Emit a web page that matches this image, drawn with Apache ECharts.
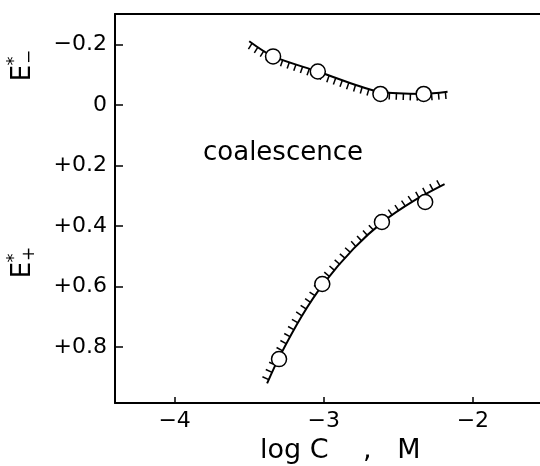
<!DOCTYPE html>
<html>
<head>
<meta charset="utf-8">
<script src="https://cdn.jsdelivr.net/npm/echarts@6/dist/echarts.min.js"></script>
<style>
  html, body { margin: 0; padding: 0; background: #fff; }
  #chart { width: 540px; height: 466px; }
</style>
</head>
<body>
<div id="chart"></div>
<script>
  // axis ticks
  const xTicks = [-4, -3, -2];
  const xTickLabels = ['−4', '−3', '−2'];
  const yTicks = [-0.2, 0, 0.2, 0.4, 0.6, 0.8];
  const yTickLabels = ['−0.2', '0', '+0.2', '+0.4', '+0.6', '+0.8'];

  // E*- branch (upper)
  const upperX = [-3.34, -3.04, -2.62, -2.33];
  const upperY = [-0.16, -0.11, -0.036, -0.036];
  const upperCurveX = [-3.50, -3.34, -3.04, -2.80, -2.62, -2.33, -2.17];
  const upperCurveY = [-0.21, -0.16, -0.11, -0.068, -0.042, -0.036, -0.043];

  // E*+ branch (lower)
  const lowerX = [-3.30, -3.01, -2.61, -2.32];
  const lowerY = [0.84, 0.592, 0.387, 0.321];
  const lowerCurveX = [-3.38, -3.30, -3.15, -3.00, -2.80, -2.60, -2.40, -2.19];
  const lowerCurveY = [0.92, 0.835, 0.70, 0.59, 0.475, 0.385, 0.318, 0.262];

  const zip = (a, b) => a.map((v, i) => [v, b[i]]);
  const upperCurve = zip(upperCurveX, upperCurveY);
  const lowerCurve = zip(lowerCurveX, lowerCurveY);

  const FONT = '"DejaVu Sans", sans-serif';

  // short hatch strokes along a curve, side = 1 below / -1 above
  function hatchSeries(curve, side, gap, len) {
    return {
      type: 'custom',
      coordinateSystem: 'cartesian2d',
      data: [[curve[0][0], curve[0][1]]],
      silent: true,
      z: 3,
      renderItem: function (params, api) {
        const pts = curve.map(p => api.coord(p));
        const children = [];
        let carry = gap / 2;
        for (let i = 0; i < pts.length - 1; i++) {
          const x0 = pts[i][0], y0 = pts[i][1];
          const dx = pts[i + 1][0] - x0, dy = pts[i + 1][1] - y0;
          const seg = Math.hypot(dx, dy);
          const ux = dx / seg, uy = dy / seg;
          const nx = -uy * side, ny = ux * side;
          let t = carry;
          while (t <= seg) {
            const px = x0 + ux * t, py = y0 + uy * t;
            children.push({
              type: 'line',
              shape: { x1: px, y1: py, x2: px + nx * len, y2: py + ny * len },
              style: { stroke: '#000', lineWidth: 1.5 }
            });
            t += gap;
          }
          carry = t - seg;
        }
        return { type: 'group', children: children };
      }
    };
  }

  function curveSeries(curve) {
    return {
      type: 'line',
      data: curve,
      smooth: 0.3,
      showSymbol: false,
      silent: true,
      z: 3,
      lineStyle: { color: '#000', width: 2 }
    };
  }

  function pointSeries(xs, ys) {
    return {
      type: 'scatter',
      data: zip(xs, ys),
      symbol: 'circle',
      symbolSize: 15,
      z: 5,
      itemStyle: { color: '#fff', borderColor: '#000', borderWidth: 1.5, opacity: 1 }
    };
  }

  // rotated E label with stacked * and sign
  function eLabel(x, y, sign) {
    return {
      type: 'group',
      x: x, y: y,
      rotation: Math.PI / 2,
      children: [
        { type: 'text', x: 0, y: 0, style: { text: 'E', font: '26px ' + FONT, fill: '#000', align: 'center', verticalAlign: 'middle' } },
        { type: 'text', x: 12, y: -9, style: { text: '*', font: '18px ' + FONT, fill: '#000', align: 'center', verticalAlign: 'middle' } },
        { type: 'text', x: 16, y: 7, style: { text: sign, font: '17px ' + FONT, fill: '#000', align: 'center', verticalAlign: 'middle' } }
      ]
    };
  }

  const chart = echarts.init(document.getElementById('chart'));
  const option = {
    backgroundColor: '#fff',
    animation: false,
    grid: { left: 115, right: 0, top: 14, bottom: 63, containLabel: false, outerBoundsMode: 'none' },
    xAxis: [
      {
        type: 'value',
        min: -4.4,
        max: -1.55,
        axisLine: { show: true, onZero: false, lineStyle: { color: '#000', width: 2 } },
        axisTick: { show: true, inside: true, length: 6, customValues: xTicks, lineStyle: { color: '#000', width: 1.5 } },
        axisLabel: {
          customValues: xTicks,
          margin: 7,
          color: '#000',
          fontFamily: 'DejaVu Sans',
          fontSize: 22,
          formatter: v => xTickLabels[xTicks.findIndex(t => Math.abs(t - v) < 1e-6)]
        },
        splitLine: { show: false }
      },
      {
        type: 'value',
        position: 'top',
        min: -4.4,
        max: -1.55,
        axisLine: { show: true, onZero: false, lineStyle: { color: '#000', width: 2 } },
        axisTick: { show: false },
        axisLabel: { show: false },
        splitLine: { show: false }
      }
    ],
    yAxis: {
      type: 'value',
      inverse: true,
      min: -0.3,
      max: 0.985,
      axisLine: { show: true, onZero: false, lineStyle: { color: '#000', width: 2 } },
      axisTick: { show: true, inside: true, length: 8, customValues: yTicks, lineStyle: { color: '#000', width: 1.5 } },
      axisLabel: {
        customValues: yTicks,
        margin: 8,
        color: '#000',
        fontFamily: 'DejaVu Sans',
        fontSize: 22,
        formatter: v => yTickLabels[yTicks.findIndex(t => Math.abs(t - v) < 1e-6)]
      },
      splitLine: { show: false }
    },
    series: [
      curveSeries(upperCurve),
      hatchSeries(upperCurve, 1, 7, 7),
      pointSeries(upperX, upperY),
      curveSeries(lowerCurve),
      hatchSeries(lowerCurve, -1, 8, 7),
      pointSeries(lowerX, lowerY)
    ],
    graphic: [
      { type: 'text', x: 203, y: 153, style: { text: 'coalescence', font: '26px ' + FONT, fill: '#000', verticalAlign: 'middle' } },
      { type: 'text', x: 260, y: 451, style: { text: 'log C    ,   M', font: '27px ' + FONT, fill: '#000', verticalAlign: 'middle' } },
      eLabel(23, 73, '−'),
      eLabel(23, 270, '+')
    ]
  };
  chart.setOption(option);
</script>
</body>
</html>
